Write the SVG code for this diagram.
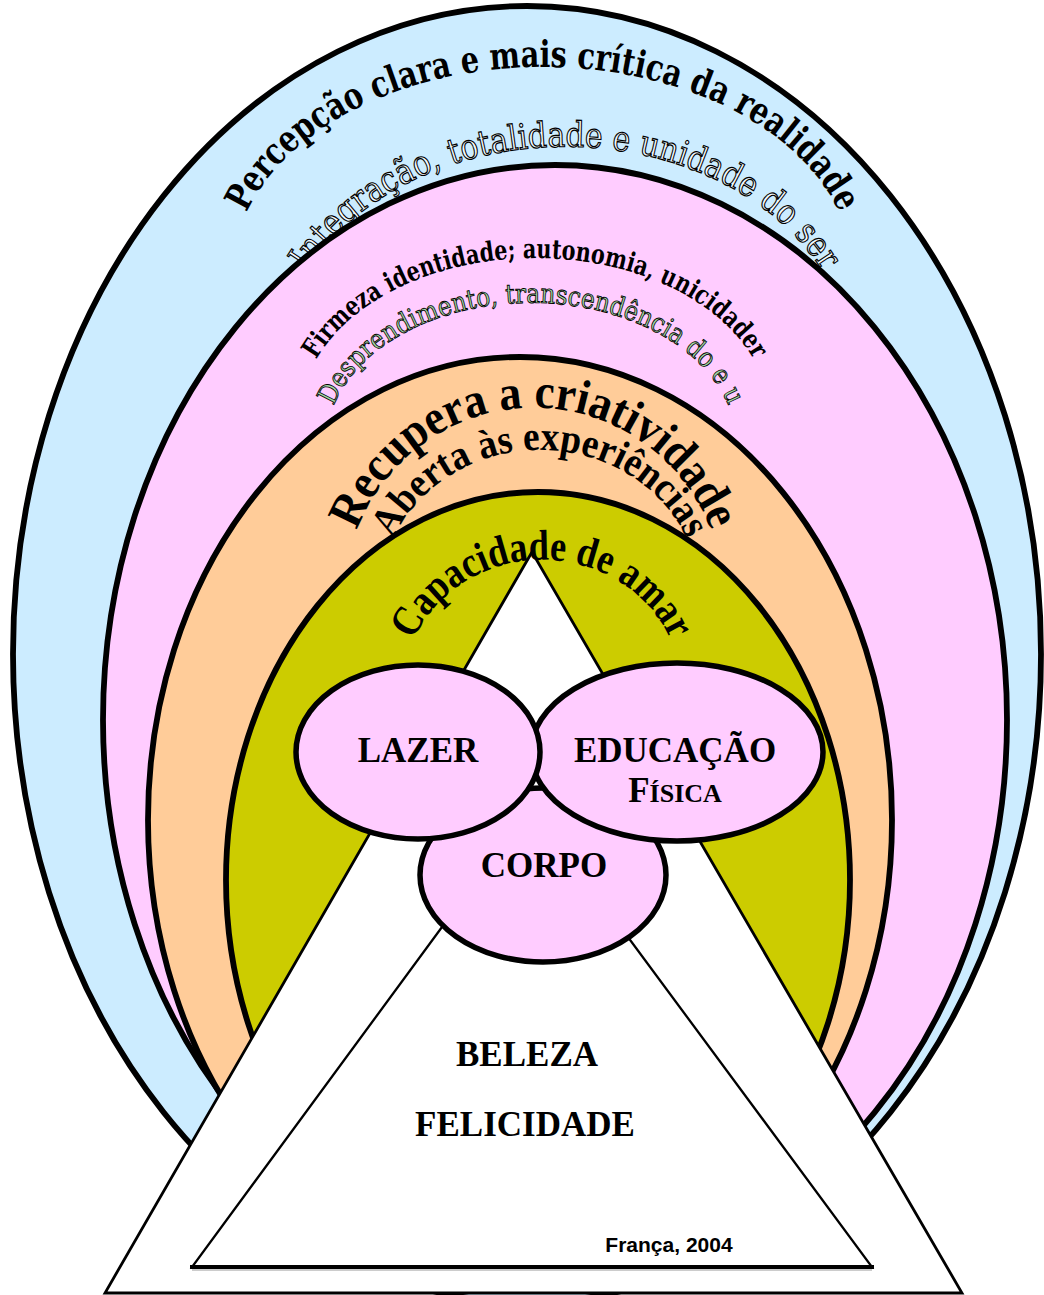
<svg xmlns="http://www.w3.org/2000/svg" width="1044" height="1295" viewBox="0 0 1044 1295">
<defs>
<style>
.ring{stroke:#000;stroke-width:5.8}
.arc{font-family:"Liberation Serif","Times New Roman",serif;font-weight:bold;fill:#000}
.wide{font-family:"DejaVu Serif","Liberation Serif",serif;font-weight:bold;fill:#000}
.outline{font-family:"DejaVu Serif","Liberation Serif",serif;font-weight:normal;stroke:#000;stroke-width:1.2}
.node{fill:#ffccff;stroke:#000;stroke-width:5.5}
.lbl{font-family:"Liberation Serif","Times New Roman",serif;font-weight:bold;font-size:35px;fill:#000;text-anchor:middle}
.tri{fill:#fff;stroke:#000}
</style>
<path id="p1" d="M 246 213.9 A 310 206 0 0 1 840 213.9"/>
<path id="p2" d="M 307 272 A 285 218 0 0 1 823 272"/>
<path id="p3" d="M 316 360 A 235 160 0 0 1 754 360"/>
<path id="p4" d="M 333.5 406 A 205 141 0 0 1 728.5 406"/>
<path id="p5" d="M 357 530 A 190 192 0 0 1 711 530"/>
<path id="p6" d="M 392.5 540 A 160 147 0 0 1 687.5 540"/>
<path id="p7" d="M 413 640.6 A 140 132 0 0 1 671 640.6"/>
</defs>
<rect width="1044" height="1295" fill="#fff"/>

<g id="ring-percepcao">
<ellipse class="ring" cx="527" cy="654" rx="514" ry="648" fill="#ccecff"/>
<text class="wide" font-size="37"><textPath href="#p1" startOffset="50%" text-anchor="middle" textLength="694" lengthAdjust="spacingAndGlyphs">Percepção clara e mais crítica da realidade</textPath></text>
<text class="outline" font-size="35" fill="#f4fbff"><textPath href="#p2" startOffset="50%" text-anchor="middle" textLength="596" lengthAdjust="spacingAndGlyphs">Integração, totalidade e unidade do ser</textPath></text>
</g>

<g id="ring-firmeza">
<ellipse class="ring" cx="555" cy="720" rx="452" ry="555" fill="#ffccff"/>
<text class="wide" font-size="27"><textPath href="#p3" startOffset="50%" text-anchor="middle" textLength="503" lengthAdjust="spacingAndGlyphs">Firmeza identidade; autonomia, unicidader</textPath></text>
<text class="outline" font-size="27" fill="#a6daa6" style="stroke-width:0.9"><textPath href="#p4" startOffset="50%" text-anchor="middle" textLength="470" lengthAdjust="spacingAndGlyphs">Desprendimento, transcendência do e u</textPath></text>
</g>

<g id="ring-criatividade">
<ellipse class="ring" cx="520" cy="820" rx="372" ry="463" fill="#ffcc99"/>
<text class="arc" font-size="49"><textPath href="#p5" startOffset="50%" text-anchor="middle" textLength="458" lengthAdjust="spacingAndGlyphs">Recupera a criatividade</textPath></text>
<text class="arc" font-size="41"><textPath href="#p6" startOffset="50%" text-anchor="middle" textLength="362" lengthAdjust="spacingAndGlyphs">Aberta às experiências</textPath></text>
</g>

<g id="ring-amar">
<ellipse class="ring" cx="538" cy="880" rx="312" ry="388" fill="#cccc00"/>
</g>

<g id="triangle-outer">
<polygon class="tri" stroke-width="2.8" points="532,552 105,1293 962,1293"/>
</g>

<g id="label-amar">
<text class="arc" font-size="43"><textPath href="#p7" startOffset="50%" text-anchor="middle" textLength="320" lengthAdjust="spacingAndGlyphs">Capacidade de amar</textPath></text>
</g>

<g id="triangle-inner">
<polygon class="tri" stroke-width="2.3" points="531,806 192,1267 872,1267"/>
<line x1="190" y1="1267" x2="874" y2="1267" stroke="#000" stroke-width="4"/>
<line x1="192" y1="1270" x2="872" y2="1270" stroke="#999" stroke-width="1.2"/>
<text class="lbl" x="527" y="1066">BELEZA</text>
<text class="lbl" x="525" y="1136">FELICIDADE</text>
<text x="669" y="1252" font-family="Liberation Sans, Arial, sans-serif" font-weight="bold" font-size="21" text-anchor="middle">França, 2004</text>
</g>

<g id="node-corpo">
<ellipse class="node" cx="543" cy="875" rx="123" ry="87"/>
<text class="lbl" x="544" y="877">CORPO</text>
</g>

<g id="node-educacao">
<ellipse class="node" cx="677" cy="752" rx="146" ry="89"/>
<text class="lbl" x="675" y="762">EDUCAÇÃO</text>
<text class="lbl" x="675" y="802">F<tspan font-size="26">ÍSICA</tspan></text>
</g>

<g id="node-lazer">
<ellipse class="node" cx="418" cy="752" rx="122" ry="87"/>
<text class="lbl" x="418" y="762">LAZER</text>
</g>

<g id="connectors"/>
</svg>
